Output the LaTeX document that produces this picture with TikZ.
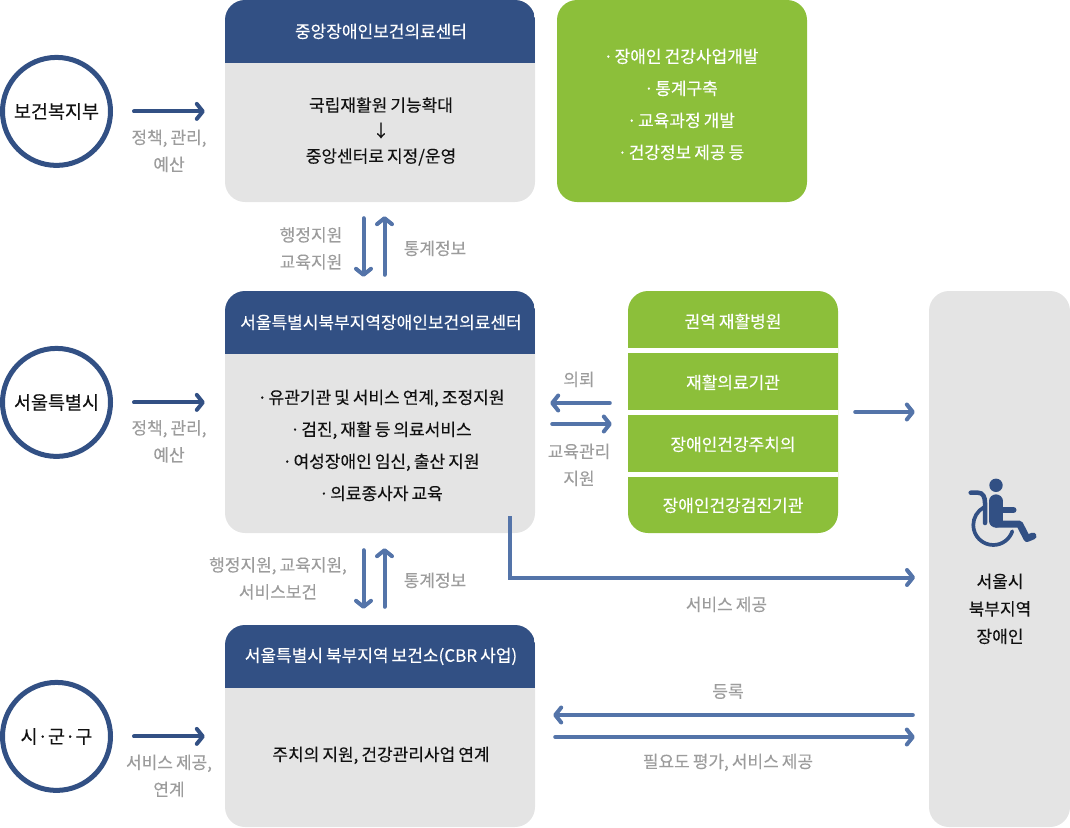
\documentclass[tikz,border=0pt]{standalone}
\usepackage{fontspec}
\setmainfont[WordSpace=0.8,FakeBold=0.2]{Noto Sans CJK KR}
\usetikzlibrary{arrows.meta}
\definecolor{Head}{HTML}{325084}
\definecolor{Flow}{HTML}{5474A9}
\definecolor{Panel}{HTML}{E4E4E4}
\definecolor{Leaf}{HTML}{8CBF3A}
\definecolor{Muted}{HTML}{9C9C9C}
\definecolor{Ink}{HTML}{111111}
\newcommand{\listdot}{·\hspace{1.5pt}}
\begin{document}
\begin{tikzpicture}[x=1pt,y=-1pt,
  panelbox/.style={rounded corners=20pt,fill=Panel,minimum width=310pt,minimum height=202pt,inner sep=0pt,
   path picture={\fill[Head,sharp corners] (path picture bounding box.north west) rectangle ([yshift=-63pt]path picture bounding box.north east);}},
  leafbox/.style={rounded corners=20pt,fill=Leaf,inner sep=0pt},
  agency/.style={circle,draw=Head,line width=5pt,fill=white,minimum size=108pt,inner sep=0pt,text=Ink,yshift=-.4pt,font=\fontsize{18.5}{22}\selectfont},
  headtext/.style={text=white,align=center,inner sep=0pt,yshift=-.4pt,font=\fontsize{17}{22}\selectfont},
  bodytext/.style={text=Ink,align=center,inner sep=0pt,yshift=-.4pt,font=\fontsize{17}{32}\selectfont},
  labeltext/.style={text=Muted,align=center,inner sep=0pt,yshift=-.4pt,font=\fontsize{17}{27}\selectfont},
  toparrow/.style={draw=Head,line width=4pt,line cap=round,-{Straight Barb[round,length=6pt,width=15pt]},shorten <=21pt,shorten >=20pt},
  flowarrow/.style={draw=Flow,line width=4pt,line cap=round,-{Straight Barb[round,length=6pt,width=15pt]}}]
  \useasboundingbox (0,0) rectangle (1070,827);

  \node[panelbox] (central) at (380,101) {};
  \node[panelbox,minimum height=242pt] (seoul) at (380,412) {};
  \node[panelbox] (health) at (380,726) {};
  \node[leafbox,minimum width=250pt,minimum height=202pt,fill=Leaf] (tasks) at (682,101) {};
  \node[leafbox,minimum width=210pt,minimum height=242pt,
   path picture={\foreach \cut in {57,119,181}
    \fill[white,sharp corners] ([yshift=-\cut pt]path picture bounding box.north west) rectangle ([yshift=-\cut pt-5pt]path picture bounding box.north east);}] (stack) at (733,412) {};
  \node[rounded corners=20pt,fill=Panel,minimum width=141pt,minimum height=536pt,inner sep=0pt] (user) at (999.5,559) {};

  \node[agency] (moh) at (56.5,111) {보건복지부};
  \node[agency] (city) at (56.5,402) {서울특별시};
  \node[agency] (local) at (56.5,736) {시·군·구};

  \node[headtext] (centraltitle) at (381,31) {중앙장애인보건의료센터};
  \node[headtext] (seoultitle) at (381,322) {서울특별시북부지역장애인보건의료센터};
  \node[headtext] (healthtitle) at (381,656) {서울특별시 북부지역 보건소(CBR 사업)};

  \node[bodytext,font=\fontsize{17}{25.5}\selectfont] (centralbody) at (381,131) {국립재활원 기능확대\\↓\\중앙센터로 지정/운영};
  \node[bodytext] (seoulbody) at (381,445) {\listdot 유관기관 및 서비스 연계, 조정지원\\\listdot 검진, 재활 등 의료서비스\\\listdot 여성장애인 임신, 출산 지원\\\listdot 의료종사자 교육};
  \node[bodytext] (healthbody) at (381,755) {주치의 지원, 건강관리사업 연계};
  \node[headtext,font=\fontsize{17}{32}\selectfont] (taskstext) at (681,104) {\listdot 장애인 건강사업개발\\\listdot 통계구축\\\listdot 교육과정 개발\\\listdot 건강정보 제공 등};

  \node[headtext] (hospital) at (733,321) {권역 재활병원};
  \node[headtext] (rehab) at (733,382) {재활의료기관};
  \node[headtext] (doctor) at (733,444) {장애인건강주치의};
  \node[headtext] (checkup) at (733,505) {장애인건강검진기관};
  \node[bodytext,font=\fontsize{17}{27.5}\selectfont] (usertext) at (1000,608.5) {서울시\\북부지역\\장애인};

  \node[labeltext] (mohlabel) at (169,150.5) {정책, 관리,\\예산};
  \node[labeltext] (citylabel) at (169,441) {정책, 관리,\\예산};
  \node[labeltext] (locallabel) at (169,775.5) {서비스 제공,\\연계};
  \node[labeltext] (downlabela) at (311,248) {행정지원\\교육지원};
  \node[labeltext] (uplabela) at (435,248) {통계정보};
  \node[labeltext] (downlabelb) at (278,578) {행정지원, 교육지원,\\서비스보건};
  \node[labeltext] (uplabelb) at (435,580) {통계정보};
  \node[labeltext] (asklabel) at (579,379) {의뢰};
  \node[labeltext] (edulabel) at (579,464.5) {교육관리\\지원};
  \node[labeltext] (servicelabel) at (726.5,604) {서비스 제공};
  \node[labeltext] (reglabel) at (728,691) {등록};
  \node[labeltext] (needlabel) at (728,762) {필요도 평가, 서비스 제공};

  \draw[toparrow] (moh.east) -- (moh.east -| central.west);
  \draw[toparrow] (city.east) -- (city.east -| seoul.west);
  \draw[toparrow] (local.east) -- (local.east -| health.west);

  \draw[flowarrow,shorten <=16pt,shorten >=14pt] ([xshift=-16.5pt]central.south) -- ([xshift=-16.5pt]seoul.north);
  \draw[flowarrow,shorten <=16pt,shorten >=14pt] ([xshift=4.5pt]seoul.north) -- ([xshift=4.5pt]central.south);
  \draw[flowarrow,shorten <=17pt,shorten >=16pt] ([xshift=-16.5pt]seoul.south) -- ([xshift=-16.5pt]health.north);
  \draw[flowarrow,shorten <=18pt,shorten >=15pt] ([xshift=4.5pt]health.north) -- ([xshift=4.5pt]seoul.south);

  \draw[flowarrow,shorten <=18pt,shorten >=15pt] ([yshift=9pt]stack.west) -- ([yshift=9pt]seoul.east);
  \draw[flowarrow,shorten <=17pt,shorten >=16pt] ([yshift=-12pt]seoul.east) -- ([yshift=-12pt]stack.west);
  \draw[flowarrow,shorten <=17pt,shorten >=14pt] (stack.east) -- (stack.east -| user.west);

  \coordinate (servicestart) at (510,516);
  \coordinate (serviceend) at (929,577.5);
  \draw[flowarrow,line cap=butt,shorten >=14pt] (servicestart) |- (serviceend);

  \draw[flowarrow,shorten <=16pt,shorten >=18pt] ([yshift=11pt]health.east -| user.west) -- ([yshift=11pt]health.east);
  \draw[flowarrow,shorten <=20pt,shorten >=14pt] ([yshift=-11pt]health.east) -- ([yshift=-11pt]health.east -| user.west);

  \fill[Head] (996,485.3) circle (6.7);
  \draw[Head,line width=13.3pt,line cap=round] (996,501) -- (996,521);
  \draw[Head,line width=7pt,line cap=round,line join=round] (996,524) -- (1019.5,524) -- (1027,538.5) -- (1033,536);
  \draw[Head,line width=6pt,line cap=round] (996,510) -- (1013.5,510);
  \draw[Head,line width=4.5pt,line cap=round] (970.7,492.7) -- (978,492.7) .. controls (983,492.7) and (985,497) .. (985,503) -- (985,523);
  \draw[Head,line width=3.7pt,line cap=round] (983.9,507.3) .. controls (977.4,510.8) and (973.3,517.6) .. (973.3,525)
    .. controls (973.3,536.05) and (982.25,545) .. (993.3,545) .. controls (1001.96,545) and (1009.6,539.4) .. (1012.3,531.2);
\end{tikzpicture}
\end{document}
